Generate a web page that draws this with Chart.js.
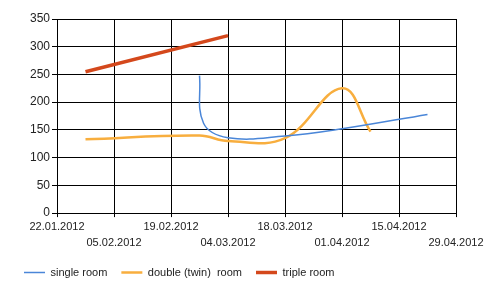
<!DOCTYPE html>
<html><head><meta charset="utf-8">
<script src="https://cdn.jsdelivr.net/npm/chart.js@4"></script>
<style>html,body{margin:0;padding:0;background:#fff}#wrap{width:500px;height:296px}</style>
</head><body><div id="wrap"><canvas id="c" width="500" height="296"></canvas></div>
<script>
const startDate = '22.01.2012';
const tickDates = ['22.01.2012','05.02.2012','19.02.2012','04.03.2012','18.03.2012','01.04.2012','15.04.2012','29.04.2012'];
const yTicks = [0,50,100,150,200,250,300,350];

const seriesNames = ['single room','double (twin)  room','triple room'];

const singleDates  = ['26.02.2012','27.02.2012','04.03.2012','18.03.2012','01.04.2012','22.04.2012'];
const singleValues = [248,162,136,139,152,178];

const doubleDates  = ['29.01.2012','26.02.2012','04.03.2012','18.03.2012','01.04.2012','08.04.2012'];
const doubleValues = [133,140,130,135,225,147];

const tripleDates  = ['29.01.2012','04.03.2012'];
const tripleValues = [255,320];

function dayNum(s){const [d,m,y]=s.split('.').map(Number);return Date.UTC(y,m-1,d)/86400000;}
const base = dayNum(startDate);
function toPts(dates, vals){return dates.map((d,i)=>({x:dayNum(d)-base,y:vals[i]}));}
const tickPos = tickDates.map(d=>dayNum(d)-base);

const FONT = "'Liberation Sans', Arial, sans-serif";

new Chart(document.getElementById('c'), {
  type: 'line',
  data: {
    datasets: [
      {label: seriesNames[0], data: toPts(singleDates, singleValues), borderColor:'#4a86d8', backgroundColor:'#4a86d8', borderWidth:1.5, tension:0.4, pointRadius:0, fill:false},
      {label: seriesNames[1], data: toPts(doubleDates, doubleValues), borderColor:'#f8ae3e', backgroundColor:'#f8ae3e', borderWidth:2.5, tension:0.4, pointRadius:0, fill:false},
      {label: seriesNames[2], data: toPts(tripleDates, tripleValues), borderColor:'#d4481c', backgroundColor:'#d4481c', borderWidth:3.5, tension:0, pointRadius:0, fill:false}
    ]
  },
  options: {
    responsive:false, animation:false, devicePixelRatio:1,
    layout:{padding:{left:10, right:44, top:19, bottom:8}},
    plugins:{
      tooltip:{enabled:false},
      legend:{position:'bottom', align:'start',
        labels:{usePointStyle:true, pointStyle:'line', pointStyleWidth:21, padding:14, color:'#222', font:{family:FONT, size:11}}}
    },
    scales:{
      x:{type:'linear', min:tickPos[0], max:tickPos[tickPos.length-1],
        afterBuildTicks:(s)=>{s.ticks = tickPos.map(v=>({value:v}));},
        ticks:{autoSkip:false, maxRotation:0, padding:2, color:'#222', font:{family:FONT, size:11, lineHeight:1.45},
          callback:(v)=>{const i=tickPos.indexOf(v); const l=tickDates[i]; return i%2===0?[l,'']:['',l];}},
        grid:{color:'#000', lineWidth:1, tickLength:4, tickColor:'#000'},
        border:{color:'#000', width:1}
      },
      y:{min:0, max:350,
        afterBuildTicks:(s)=>{s.ticks = yTicks.map(v=>({value:v}));},
        afterFit:(s)=>{s.width = 47;},
        ticks:{padding:2, color:'#222', font:{family:FONT, size:12}},
        grid:{color:'#000', lineWidth:1, tickLength:5, tickColor:'#000'},
        border:{color:'#000', width:1}
      }
    }
  }
});
</script></body></html>
